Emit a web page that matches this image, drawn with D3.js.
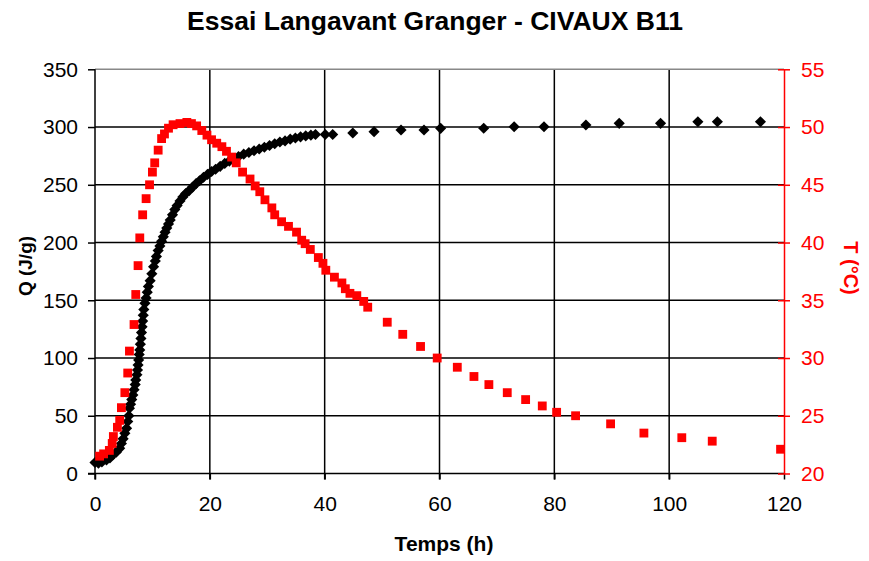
<!DOCTYPE html>
<html>
<head>
<meta charset="utf-8">
<script src="https://cdn.jsdelivr.net/npm/d3@7"></script>
<style>
  html, body { margin: 0; padding: 0; background: #fff; }
  svg { display: block; font-family: "Liberation Sans", Arial, sans-serif; }
</style>
</head>
<body>
<svg id="chart" width="869" height="561"></svg>
<script>
// Heat of hydration Q (J/g) against time (h)
const heatTime = [0.0, 0.6, 1.2, 2.0, 2.6, 3.1, 3.7, 4.3, 4.6, 4.9, 5.2, 5.5, 5.7, 5.9, 6.0, 6.2, 6.4, 6.6, 6.8, 7.0,
  7.1, 7.3, 7.4, 7.5, 7.6, 7.7, 7.8, 7.9, 8.0, 8.1, 8.2, 8.3, 8.4, 8.5, 8.7, 8.9, 9.1, 9.3, 9.6, 9.9,
  10.2, 10.5, 10.7, 11.0, 11.3, 11.6, 11.9, 12.2, 12.5, 12.8, 13.1, 13.5, 13.9, 14.3, 14.8, 15.3, 15.8, 16.4, 17.0, 17.6,
  18.2, 18.9, 19.6, 20.3, 21.0, 21.8, 22.6, 23.4, 24.2, 25.0, 25.9, 26.8, 27.7, 28.6, 29.5, 30.4, 31.3, 32.2, 33.1, 34.0,
  34.9, 35.8, 36.7, 37.6, 38.4, 40.1, 41.4, 44.9, 48.6, 53.3, 57.3, 60.2, 67.7, 73.0, 78.2, 85.5, 91.3, 98.5, 105.0, 108.4, 115.9];
const heatQ = [9.5, 9.0, 10.0, 11.7, 13.5, 16.0, 18.5, 21.8, 26.0, 30.0, 34.8, 39.1, 45.0, 50.0, 56.5, 60.0, 64.0, 68.0, 72.5, 77.0,
  81.0, 85.5, 89.6, 94.0, 98.3, 103.0, 107.0, 112.0, 117.0, 122.0, 127.0, 132.0, 137.0, 142.0, 147.5, 152.0, 157.0, 162.0, 167.0, 173.0,
  179.0, 184.0, 188.0, 193.0, 197.0, 201.0, 205.0, 209.0, 212.5, 216.0, 219.5, 224.0, 228.5, 232.0, 236.0, 239.5, 242.5, 245.0, 248.0, 251.0,
  253.5, 256.5, 259.0, 261.5, 263.5, 266.0, 268.5, 270.5, 272.5, 274.5, 276.5, 278.0, 279.5, 281.0, 282.5, 284.0, 285.5, 287.0, 288.0, 289.5,
  290.5, 291.5, 292.3, 293.0, 293.5, 293.5, 293.5, 294.8, 296.0, 297.4, 297.4, 298.9, 299.0, 300.3, 300.3, 301.8, 303.2, 303.2, 304.6, 304.6, 304.6];

// Sample temperature T (°C) against time (h)
const tempTime = [0.8, 1.5, 2.5, 3.0, 3.2, 3.9, 4.3, 4.6, 5.2, 5.7, 6.0, 6.8, 7.1, 7.5, 7.8, 8.3, 8.9, 9.5, 10.0, 10.4,
  11.0, 11.6, 12.1, 12.8, 13.6, 14.8, 16.0, 16.8, 17.7, 18.6, 19.5, 20.3, 21.2, 22.1, 22.9, 23.8, 24.6, 25.7, 27.0, 27.9,
  28.7, 29.6, 30.8, 31.3, 32.5, 33.7, 35.1, 36.0, 36.6, 37.5, 38.9, 39.7, 40.2, 41.7, 43.0, 43.6, 44.4, 45.6, 46.8, 47.5,
  50.9, 53.6, 56.7, 59.6, 63.1, 66.0, 68.6, 71.8, 75.0, 77.9, 80.4, 83.7, 89.8, 95.6, 102.2, 107.5, 119.4];
const tempT = [21.5, 21.7, 22.0, 22.6, 23.2, 24.0, 24.6, 25.7, 27.0, 28.7, 30.6, 32.9, 35.5, 38.0, 40.4, 42.4, 43.8, 45.0, 46.1, 46.9,
  48.0, 49.0, 49.4, 49.9, 50.2, 50.3, 50.4, 50.3, 50.1, 49.7, 49.3, 48.9, 48.6, 48.3, 47.9, 47.4, 46.9, 46.1, 45.5, 44.9,
  44.4, 43.7, 43.0, 42.4, 41.8, 41.4, 40.9, 40.2, 39.9, 39.4, 38.7, 38.2, 37.6, 37.0, 36.5, 36.0, 35.6, 35.4, 34.9, 34.4,
  33.1, 32.05, 31.0, 30.0, 29.2, 28.4, 27.7, 27.0, 26.4, 25.85, 25.3, 25.0, 24.3, 23.5, 23.1, 22.8, 22.1];

const xTicks = [0, 20, 40, 60, 80, 100, 120];
const qTicks = [0, 50, 100, 150, 200, 250, 300, 350];
const tTicks = [20, 25, 30, 35, 40, 45, 50, 55];

const titleText = "Essai Langavant Granger - CIVAUX B11";
const xTitle = "Temps (h)";
const qTitle = "Q (J/g)";
const tTitle = "T (°C)";

const RED = "#ff0000";
const FONT = "Liberation Sans, Arial, sans-serif";
const plotLeft = 95, plotRight = 784, plotTop = 69.3, plotBottom = 473.5;

const svg = d3.select("#chart");
const x = d3.scaleLinear().domain([0, 120]).range([plotLeft, plotRight]);
const yQ = d3.scaleLinear().domain([0, 350]).range([plotBottom, plotTop]);
const yT = d3.scaleLinear().domain([20, 55]).range([plotBottom, plotTop]);

// Grid
const grid = svg.append("g");
grid.selectAll("line.h").data(qTicks.filter(d => d > 0 && d < 350)).join("line")
  .attr("x1", plotLeft).attr("x2", plotRight)
  .attr("y1", d => yQ(d)).attr("y2", d => yQ(d))
  .attr("stroke", "#000").attr("stroke-width", 1.5);
grid.selectAll("line.v").data(xTicks.filter(d => d > 0 && d < 120)).join("line")
  .attr("x1", d => x(d)).attr("x2", d => x(d))
  .attr("y1", plotTop).attr("y2", plotBottom + 6)
  .attr("stroke", "#000").attr("stroke-width", 1.5);
// top border of the plot area
grid.append("line").attr("x1", plotLeft).attr("x2", plotRight).attr("y1", plotTop).attr("y2", plotTop)
  .attr("stroke", "#888").attr("stroke-width", 1.5);

// Bottom axis
const xAxis = svg.append("g").attr("transform", `translate(0,${plotBottom})`)
  .call(d3.axisBottom(x).tickValues(xTicks).tickSize(6).tickPadding(17).tickSizeOuter(0));
xAxis.select(".domain").attr("stroke", "#000").attr("stroke-width", 1.5).attr("d", `M${plotLeft - 7},0H${plotRight}`);
xAxis.selectAll(".tick line").attr("stroke", "#000").attr("stroke-width", 1.5);
xAxis.selectAll("text").attr("font-size", 21).attr("fill", "#000").attr("font-family", FONT);

// Left axis
const qAxis = svg.append("g").attr("transform", `translate(${plotLeft},0)`)
  .call(d3.axisLeft(yQ).tickValues(qTicks).tickSize(7).tickPadding(10).tickSizeOuter(0));
qAxis.select(".domain").attr("stroke", "#000").attr("stroke-width", 1.5).attr("d", `M0,${plotTop}V${plotBottom + 6}`);
qAxis.selectAll(".tick line").attr("stroke", "#000").attr("stroke-width", 1.5);
qAxis.selectAll("text").attr("font-size", 21).attr("fill", "#000").attr("font-family", FONT);

// Right axis (temperature)
const tAxis = svg.append("g").attr("transform", `translate(${plotRight},0)`)
  .call(d3.axisRight(yT).tickValues(tTicks).tickSize(6).tickPadding(11).tickSizeOuter(0));
tAxis.select(".domain").attr("stroke", RED).attr("stroke-width", 1.5);
tAxis.selectAll(".tick line").attr("stroke", RED).attr("stroke-width", 1.5).attr("x1", -6);
tAxis.selectAll("text").attr("font-size", 21).attr("fill", RED).attr("font-family", FONT);

// Heat series: black diamonds
const diamond = d3.symbol().type(d3.symbolSquare).size(62);
svg.append("g").selectAll("path").data(heatTime.map((t, i) => [t, heatQ[i]])).join("path")
  .attr("d", diamond)
  .attr("transform", d => `translate(${x(d[0])},${yQ(d[1])}) rotate(45)`)
  .attr("fill", "#000");

// Temperature series: red squares
const square = d3.symbol().type(d3.symbolSquare).size(78);
svg.append("g").selectAll("path").data(tempTime.map((t, i) => [t, tempT[i]])).join("path")
  .attr("d", square)
  .attr("transform", d => `translate(${x(d[0])},${yT(d[1])})`)
  .attr("fill", RED);

// Titles
svg.append("text").attr("x", 435).attr("y", 30).attr("text-anchor", "middle")
  .attr("font-size", 26.5).attr("font-weight", "bold").text(titleText);
svg.append("text").attr("x", 444).attr("y", 551).attr("text-anchor", "middle")
  .attr("font-size", 21).attr("font-weight", "bold").text(xTitle);
svg.append("text").attr("transform", "translate(25,266) rotate(-90)").attr("text-anchor", "middle")
  .attr("dy", "0.35em").attr("font-size", 19).attr("font-weight", "bold").text(qTitle);
svg.append("text").attr("transform", "translate(851,268) rotate(90)").attr("text-anchor", "middle")
  .attr("dy", "0.35em").attr("font-size", 20).attr("font-weight", "bold").attr("fill", RED).text(tTitle);
</script>
</body>
</html>
